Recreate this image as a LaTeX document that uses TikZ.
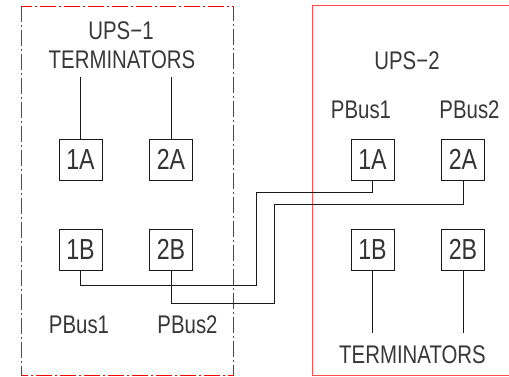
\documentclass[tikz,border=0pt]{standalone}
\usepackage{fontspec}
\newfontfamily\cadfont[FakeStretch=0.8]{Liberation Sans}
\begin{document}
\begin{tikzpicture}[x=1pt,y=-1pt,
  wire/.style={line width=0.9pt,black!90},
  box/.style={draw,line width=0.9pt,black!90,text=black!80,minimum width=43pt,minimum height=41pt,inner sep=0pt,font=\cadfont\fontsize{29}{29}\selectfont},
  lbl/.style={anchor=base,inner sep=0pt,text=black!78,font=\cadfont\fontsize{25.5}{25.5}\selectfont},
  zone1/.style={red,line width=0.9pt,dash pattern=on 16pt off 3pt on 2pt off 3pt},
  zone2/.style={red!70,line width=1pt}]
\useasboundingbox (0,0) rectangle (509,376);
% zones
\draw[zone1] (21.5,6) rectangle (233,375.5);
\draw[zone2] (312,5.5) rectangle (520,375.5);
% texts
\node[lbl] (ups1) at (121,39) {UPS−1};
\node[lbl] (term1) at (122,68) {TERMINATORS};
\node[lbl] (ups2) at (407,69) {UPS−2};
\node[lbl] (rp1) at (361,118) {PBus1};
\node[lbl] (rp2) at (469.5,118) {PBus2};
\node[lbl] (lp1) at (79,333) {PBus1};
\node[lbl] (lp2) at (187.5,333) {PBus2};
\node[lbl] (term2) at (412.5,363) {TERMINATORS};
% boxes
\node[box] (l1A) at (80.5,159.5) {1A};
\node[box] (l2A) at (171,159.5) {2A};
\node[box] (l1B) at (80.5,249.5) {1B};
\node[box] (l2B) at (171,249.5) {2B};
\node[box] (r1A) at (372.5,159.5) {1A};
\node[box] (r2A) at (463,159.5) {2A};
\node[box] (r1B) at (372.5,249.5) {1B};
\node[box] (r2B) at (463,249.5) {2B};
% terminator leads
\coordinate (tl1) at (80.5,77);
\coordinate (tl2) at (171,77);
\coordinate (tr1) at (372.5,333);
\coordinate (tr2) at (463,333);
\draw[wire] (tl1) -- (l1A.north);
\draw[wire] (tl2) -- (l2A.north);
\draw[wire] (r1B.south) -- (tr1);
\draw[wire] (r2B.south) -- (tr2);
% cross connections
\coordinate (c1a) at (256,285);
\coordinate (c1b) at (372.5,192);
\coordinate (c2a) at (274,303);
\coordinate (c2b) at (463,204);
\draw[wire] (l1B.south) |- (c1a) |- (c1b) -- (r1A.south);
\draw[wire] (l2B.south) |- (c2a) |- (c2b) -- (r2A.south);
\end{tikzpicture}
\end{document}
